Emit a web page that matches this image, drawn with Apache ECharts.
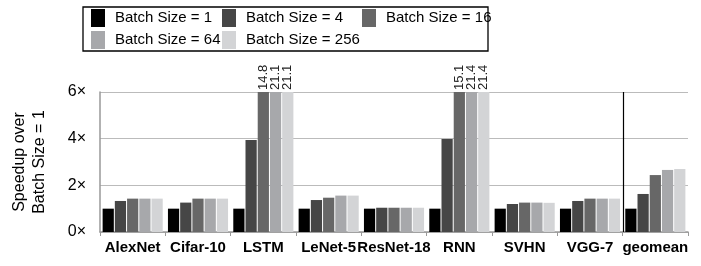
<!DOCTYPE html>
<html>
<head>
<meta charset="utf-8">
<script src="https://cdn.jsdelivr.net/npm/echarts@6/dist/echarts.min.js"></script>
<style>
  html, body { margin: 0; padding: 0; background: #fff; }
  #chart { width: 701px; height: 266px; }
</style>
</head>
<body>
<div id="chart"></div>
<script>
var categories = ['AlexNet', 'Cifar-10', 'LSTM', 'LeNet-5', 'ResNet-18', 'RNN', 'SVHN', 'VGG-7', 'geomean'];
var seriesNames = ['Batch Size = 1', 'Batch Size = 4', 'Batch Size = 16', 'Batch Size = 64', 'Batch Size = 256'];
var bs1   = [1.00, 1.00, 1.00, 1.00, 1.00, 1.00, 1.00, 1.00, 1.00];
var bs4   = [1.33, 1.26, 3.94, 1.37, 1.04, 3.99, 1.20, 1.33, 1.63];
var bs16  = [1.43, 1.43, 14.8, 1.47, 1.04, 15.1, 1.26, 1.43, 2.44];
var bs64  = [1.43, 1.43, 21.1, 1.56, 1.04, 21.4, 1.26, 1.43, 2.66];
var bs256 = [1.43, 1.43, 21.1, 1.56, 1.04, 21.4, 1.25, 1.43, 2.70];
var yTicks = [0, 2, 4, 6];
var colors = ['#000000', '#464646', '#676767', '#a7a8ab', '#d3d4d6'];

var yMax = yTicks[yTicks.length - 1];
var font = '"Liberation Sans", Arial, Helvetica, sans-serif';

var chart = echarts.init(document.getElementById('chart'), null, { renderer: 'canvas' });

// bars taller than the axis are cut at the top and get their value written above
function makeData(values) {
    return values.map(function (v) {
        if (v <= yMax) return v;
        return {
            value: yMax,
            label: {
                show: true,
                position: 'top',
                rotate: 90,
                align: 'left',
                verticalAlign: 'middle',
                distance: 2,
                fontSize: 13,
                fontFamily: font,
                color: '#222',
                formatter: function () { return v.toFixed(1); }
            }
        };
    });
}

var allValues = [bs1, bs4, bs16, bs64, bs256];
var series = allValues.map(function (vals, i) {
    return {
        name: seriesNames[i],
        type: 'bar',
        data: makeData(vals),
        itemStyle: { color: colors[i] },
        barGap: '9%',
        barCategoryGap: '8%'
    };
});

function legendAt(left, top, names) {
    return {
        orient: 'vertical',
        left: left,
        top: top,
        itemWidth: 14,
        itemHeight: 18,
        itemGap: 4,
        padding: 0,
        selectedMode: false,
        icon: 'rect',
        data: names,
        textStyle: { fontSize: 15, fontFamily: font, color: '#000', padding: [0, 0, 0, 5] }
    };
}

var legendBox = {
    type: 'rect',
    shape: { x: 83, y: 7, width: 405, height: 44 },
    style: { fill: 'none', stroke: '#000', lineWidth: 1.3 }
};

var option = {
    animation: false,
    backgroundColor: '#fff',
    color: colors,
    graphic: [legendBox],
    legend: [
        legendAt(91, 9, [seriesNames[0], seriesNames[3]]),
        legendAt(222, 9, [seriesNames[1], seriesNames[4]]),
        legendAt(362, 9, [seriesNames[2]])
    ],
    grid: { left: 100, right: 13, top: 92, bottom: 34 },
    xAxis: {
        type: 'category',
        data: categories,
        axisLine: { lineStyle: { color: '#999', width: 1.5 } },
        axisTick: { show: true, length: 4, lineStyle: { color: '#999' } },
        axisLabel: { fontSize: 15, fontWeight: 'bold', fontFamily: font, color: '#000', margin: 8, interval: 0 },
        splitLine: { show: false }
    },
    yAxis: {
        type: 'value',
        min: 0,
        max: yMax,
        interval: 2,
        name: 'Speedup over\nBatch Size = 1',
        nameLocation: 'middle',
        nameRotate: 90,
        nameGap: 50,
        nameTextStyle: { fontSize: 16, fontFamily: font, color: '#000', lineHeight: 20 },
        axisLine: { show: true, lineStyle: { color: '#999', width: 1.5 } },
        axisTick: { show: false },
        axisLabel: {
            fontSize: 16, fontFamily: font, color: '#000', margin: 14,
            formatter: function (v) { return v + '×'; }
        },
        splitLine: { lineStyle: { color: '#bbb', width: 1 } }
    },
    series: series
};

chart.setOption(option);

// black separator between the last benchmark and the geomean group
var n = categories.length;
var xa = chart.convertToPixel({ xAxisIndex: 0 }, categories[n - 2]);
var xb = chart.convertToPixel({ xAxisIndex: 0 }, categories[n - 1]);
var yTop = chart.convertToPixel({ yAxisIndex: 0 }, yMax);
var yBot = chart.convertToPixel({ yAxisIndex: 0 }, 0);
var xs = Math.round((xa + xb) / 2) + 0.5;
chart.setOption({
    graphic: [legendBox, {
        type: 'line',
        shape: { x1: xs, y1: yTop, x2: xs, y2: yBot },
        style: { stroke: '#000', lineWidth: 1.2 },
        z: 10
    }]
});
</script>
</body>
</html>
